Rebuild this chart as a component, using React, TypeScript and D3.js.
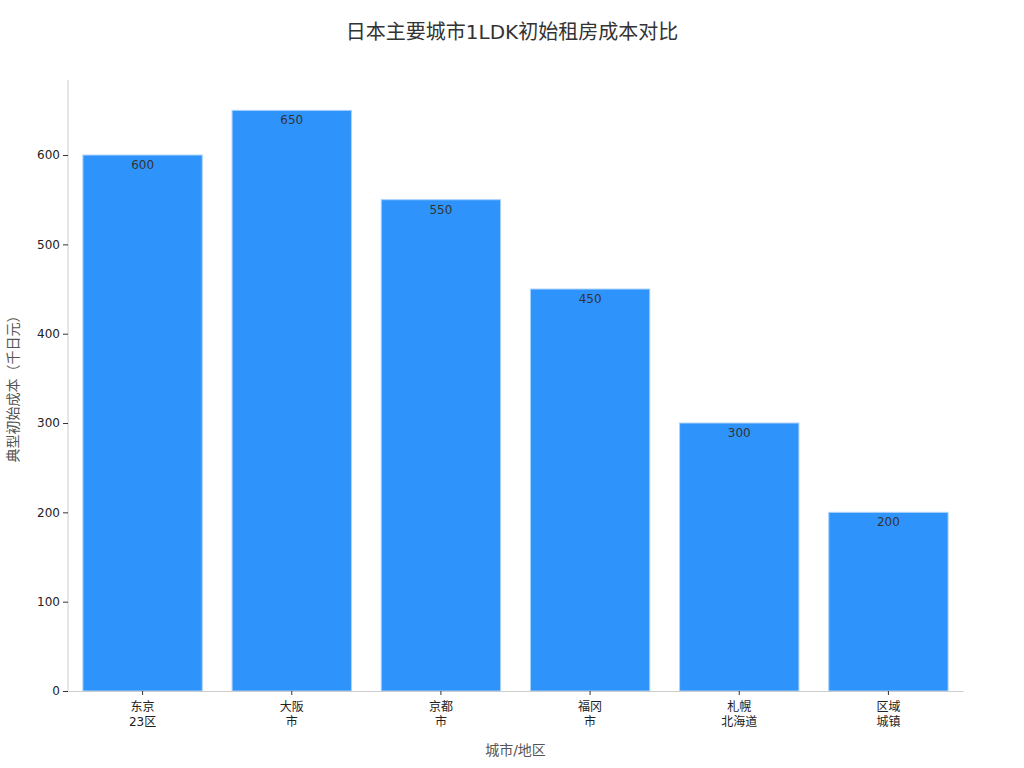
import React, { useEffect, useRef } from 'react';
import * as d3 from 'd3';

const cities: string[][] = [
  ['东京', '23区'],
  ['大阪', '市'],
  ['京都', '市'],
  ['福冈', '市'],
  ['札幌', '北海道'],
  ['区域', '城镇'],
];
const costs: number[] = [600, 650, 550, 450, 300, 200];
const yTicks: number[] = [0, 100, 200, 300, 400, 500, 600];

const FONT = '"DejaVu Sans", "Noto Sans CJK SC", sans-serif';

export default function App() {
  const chartRef = useRef<SVGSVGElement>(null);

  useEffect(() => {
    document.body.style.margin = '0';
    const svg = d3.select(chartRef.current);
    svg.selectAll('*').remove();

    const margin = { top: 80, right: 61, bottom: 77, left: 68 };
    const width = 1024 - margin.left - margin.right;
    const height = 768 - margin.top - margin.bottom;

    const keys = cities.map((c) => c.join('\n'));

    const x = d3
      .scaleBand()
      .domain(keys)
      .range([0, width])
      .paddingInner(0.2)
      .paddingOuter(0.1);

    const y = d3.scaleLinear().domain([0, 684]).range([height, 0]);

    svg
      .append('text')
      .attr('x', 512)
      .attr('y', 39)
      .attr('text-anchor', 'middle')
      .attr('font-size', 20)
      .attr('fill', '#333')
      .style('font-family', FONT)
      .text('日本主要城市1LDK初始租房成本对比');

    const g = svg
      .append('g')
      .attr('transform', `translate(${margin.left},${margin.top})`);

    g.selectAll('.bar')
      .data(costs)
      .enter()
      .append('rect')
      .attr('class', 'bar')
      .attr('x', (_d, i) => x(keys[i])!)
      .attr('y', (d) => y(d))
      .attr('width', x.bandwidth())
      .attr('height', (d) => height - y(d))
      .attr('fill', '#2E93FA')
      .attr('stroke', '#a9d1fc')
      .attr('stroke-width', 1);

    g.selectAll('.label')
      .data(costs)
      .enter()
      .append('text')
      .attr('class', 'label')
      .attr('x', (_d, i) => x(keys[i])! + x.bandwidth() / 2)
      .attr('y', (d) => y(d) + 14)
      .attr('text-anchor', 'middle')
      .attr('font-size', 12)
      .attr('fill', '#333')
      .style('font-family', FONT)
      .text((d) => d);

    // y axis
    const yAxis = g
      .append('g')
      .call(d3.axisLeft(y).tickValues(yTicks).tickSize(5).tickPadding(3));
    yAxis.select('.domain').attr('stroke', '#ccc').attr('d', `M0,${height}V0`);
    yAxis.selectAll('.tick line').attr('stroke', '#333');
    yAxis
      .selectAll('.tick text')
      .attr('font-size', 12)
      .attr('fill', '#222')
      .style('font-family', FONT);

    // x axis
    const xAxis = g
      .append('g')
      .attr('transform', `translate(0,${height})`)
      .call(d3.axisBottom(x).tickSize(4).tickSizeOuter(0));
    xAxis.select('.domain').attr('stroke', '#ccc');
    xAxis.selectAll('.tick line').attr('stroke', '#333');
    xAxis.selectAll('.tick text').remove();
    xAxis
      .selectAll('.tick')
      .append('text')
      .attr('text-anchor', 'middle')
      .attr('font-size', 12)
      .attr('fill', '#222')
      .style('font-family', FONT)
      .each(function (d) {
        const lines = String(d).split('\n');
        const t = d3.select(this);
        lines.forEach((line, i) => {
          t.append('tspan')
            .attr('x', 0)
            .attr('y', 20 + i * 15)
            .text(line);
        });
      });

    svg
      .append('text')
      .attr('x', margin.left + width / 2)
      .attr('y', 755)
      .attr('text-anchor', 'middle')
      .attr('font-size', 14)
      .attr('fill', '#555')
      .style('font-family', FONT)
      .text('城市/地区');

    svg
      .append('text')
      .attr('transform', `translate(18,${margin.top + height / 2}) rotate(-90)`)
      .attr('text-anchor', 'middle')
      .attr('font-size', 14)
      .attr('fill', '#555')
      .style('font-family', FONT)
      .text('典型初始成本（千日元）');
  }, []);

  return <svg ref={chartRef} width={1024} height={768} style={{ display: 'block', background: '#fff' }}></svg>;
}
